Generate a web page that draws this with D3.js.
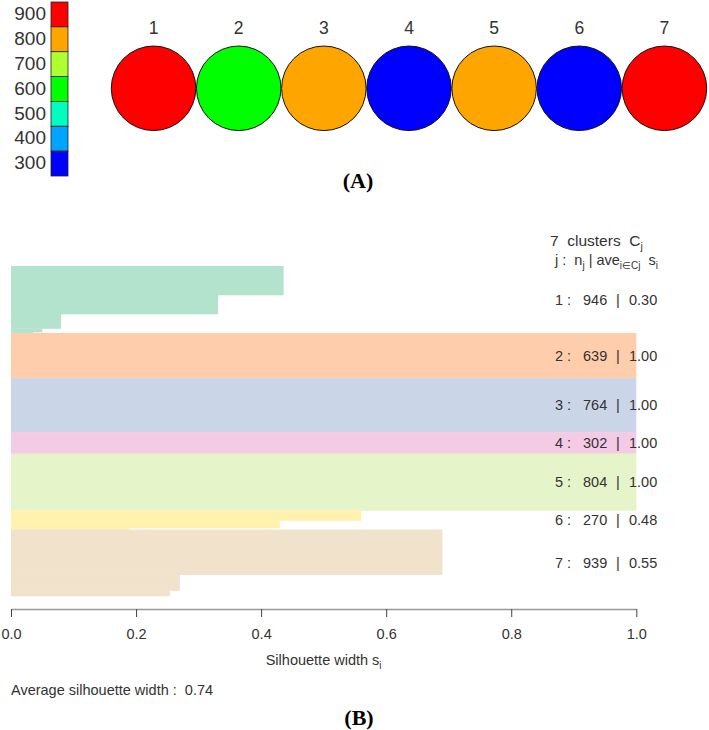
<!DOCTYPE html>
<html><head><meta charset="utf-8">
<script src="https://cdn.jsdelivr.net/npm/d3@7"></script>
<style>
html,body{margin:0;padding:0;background:#fff;}
svg{display:block;font-family:"Liberation Sans",Arial,sans-serif;}
</style></head>
<body>
<svg id="chart" width="709" height="730"></svg>
<script>
// ---- Panel A data ----
const legendValues = [900, 800, 700, 600, 500, 400, 300];
const legendColors = ["#FF0000", "#FFA500", "#ADFF2F", "#00FF00", "#00FFBF", "#00A5FF", "#0000FF"];
const nodeLabels = ["1", "2", "3", "4", "5", "6", "7"];
const nodeValues = [900, 600, 800, 300, 800, 300, 900];

// ---- Panel B data ----
const clusterIds = [1, 2, 3, 4, 5, 6, 7];
const clusterSizes = [946, 639, 764, 302, 804, 270, 939];
const clusterAvg = ["0.30", "1.00", "1.00", "1.00", "1.00", "0.48", "0.55"];
// silhouette steps per cluster: [silhouette width, number of observations]
const clusterSteps = [
  [[0.436, 410], [0.331, 268], [0.08, 205], [0.05, 50], [0.035, 13]],
  [[1.0, 639]],
  [[1.0, 764]],
  [[1.0, 302]],
  [[1.0, 804]],
  [[0.56, 141], [0.43, 106], [0.19, 23]],
  [[0.69, 636], [0.27, 226], [0.254, 77]]
];
const xTicks = [0, 0.2, 0.4, 0.6, 0.8, 1.0];
const avgWidth = "0.74";

const svg = d3.select("#chart");
const txt = "#333";

// ---- Legend ----
const legY = d3.scaleBand().domain(legendValues).range([2, 176]);
const colorOf = d3.scaleOrdinal().domain(legendValues).range(legendColors);
const leg = svg.append("g");
leg.selectAll("rect").data(legendValues).join("rect")
  .attr("x", 51).attr("width", 17)
  .attr("y", d => legY(d)).attr("height", legY.bandwidth())
  .attr("fill", d => colorOf(d)).attr("stroke", "#222").attr("stroke-width", 0.8);
leg.selectAll("text").data(legendValues).join("text")
  .attr("x", 46).attr("y", d => legY(d) + legY.bandwidth() / 2 - 1)
  .attr("dy", "0.35em").attr("text-anchor", "end")
  .attr("font-size", 19).attr("fill", txt).text(d => d);

// ---- Nodes ----
const nodeX = d3.scaleBand().domain(nodeLabels).range([111, 707]);
const r = nodeX.bandwidth() / 2;
const nodes = svg.append("g");
nodes.selectAll("circle").data(nodeLabels).join("circle")
  .attr("cx", d => nodeX(d) + r).attr("cy", 88.3).attr("r", r - 0.3)
  .attr("fill", (d, i) => colorOf(nodeValues[i]))
  .attr("stroke", "#111").attr("stroke-width", 1);
nodes.selectAll("text").data(nodeLabels).join("text")
  .attr("x", d => nodeX(d) + r).attr("y", 34)
  .attr("text-anchor", "middle").attr("font-size", 17.5).attr("fill", txt).text(d => d);

svg.append("text").attr("x", 358).attr("y", 188).attr("text-anchor", "middle")
  .attr("font-family", "'Liberation Serif','Times New Roman',serif")
  .attr("font-weight", "bold").attr("font-size", 22).attr("fill", "#000").text("(A)");

// ---- Silhouette plot ----
const total = d3.sum(clusterSizes);
const x = d3.scaleLinear().domain([0, 1]).range([11, 636.3]);
const y = d3.scaleLinear().domain([0, total]).range([266, 596]);
const pal = d3.schemePastel2;

const bars = svg.append("g");
let start = 0;
clusterIds.forEach((c, ci) => {
  let s0 = start;
  clusterSteps[ci].forEach(([w, n]) => {
    bars.append("rect")
      .attr("x", x(0)).attr("width", x(w) - x(0))
      .attr("y", y(s0)).attr("height", y(s0 + n) - y(s0) + 0.3)
      .attr("fill", pal[ci]);
    s0 += n;
  });
  const mid = y(start + clusterSizes[ci] / 2);
  const g = svg.append("g").attr("font-size", 14.5).attr("fill", txt);
  g.append("text").attr("x", 555).attr("y", mid).attr("dy", "0.35em").text(c + " :");
  g.append("text").attr("x", 583).attr("y", mid).attr("dy", "0.35em").text(clusterSizes[ci]);
  g.append("text").attr("x", 618).attr("y", mid).attr("dy", "0.35em").attr("text-anchor", "middle").text("|");
  g.append("text").attr("x", 629).attr("y", mid).attr("dy", "0.35em").text(clusterAvg[ci]);
  start += clusterSizes[ci];
});

// header
const h1 = svg.append("text").attr("x", 550).attr("y", 246).attr("font-size", 15.5).attr("fill", txt)
  .attr("xml:space", "preserve");
h1.append("tspan").text(clusterIds.length + "  clusters  C");
h1.append("tspan").attr("font-size", 10.5).attr("dy", 4).text("j");
const h2 = svg.append("text").attr("x", 555).attr("y", 265).attr("font-size", 14.5).attr("fill", txt)
  .attr("xml:space", "preserve");
h2.append("tspan").text("j :  n");
h2.append("tspan").attr("font-size", 10).attr("dy", 4).text("j");
h2.append("tspan").attr("dy", -4).text(" | ave");
h2.append("tspan").attr("font-size", 10).attr("dy", 4).text("i\u2208Cj");
h2.append("tspan").attr("dy", -4).text("  s");
h2.append("tspan").attr("font-size", 10).attr("dy", 4).text("i");

// axis
const ax = svg.append("g").attr("transform", "translate(0,609)")
  .call(d3.axisBottom(x).tickValues(xTicks).tickFormat(d3.format(".1f")).tickSize(8).tickSizeOuter(0));
ax.select(".domain").attr("stroke", "#999").attr("stroke-width", 1.5);
ax.selectAll(".tick line").attr("stroke", "#444");
ax.selectAll(".tick text").attr("font-size", 14.5).attr("fill", txt)
  .attr("font-family", "'Liberation Sans',Arial,sans-serif").attr("y", 20);

const xl = svg.append("text").attr("x", (x(0) + x(1)) / 2).attr("y", 665).attr("text-anchor", "middle")
  .attr("font-size", 14.5).attr("fill", txt);
xl.append("tspan").text("Silhouette width s");
xl.append("tspan").attr("font-size", 10).attr("dy", 4).text("i");

svg.append("text").attr("x", 11).attr("y", 695).attr("font-size", 14.5).attr("fill", txt)
  .attr("xml:space", "preserve").text("Average silhouette width :  " + avgWidth);

svg.append("text").attr("x", 359).attr("y", 725).attr("text-anchor", "middle")
  .attr("font-family", "'Liberation Serif','Times New Roman',serif")
  .attr("font-weight", "bold").attr("font-size", 22).attr("fill", "#000").text("(B)");
</script>
</body></html>
